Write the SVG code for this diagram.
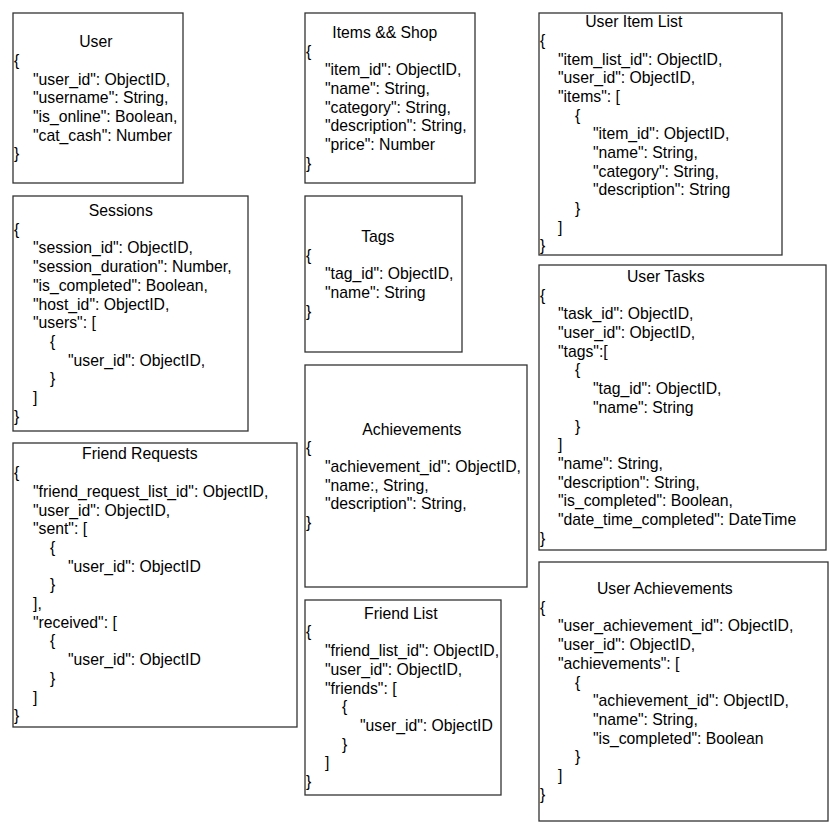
<svg xmlns="http://www.w3.org/2000/svg" width="833" height="832" viewBox="0 0 833 832">
<style>
.box{fill:#fff;stroke:#333;stroke-width:1.3}
text{font-family:"Liberation Sans",Arial,Helvetica,sans-serif;font-size:15.75px;fill:#000}
.t{text-anchor:middle}
</style>
<rect x="0" y="0" width="833" height="832" fill="#fff"/>
<g id="connectors"/>

<g id="user">
<rect class="box" x="13" y="13" width="170" height="170"/>
<text>
<tspan class="t" x="98" y="47.2">User</tspan>
<tspan x="14" dy="18.7">{</tspan>
<tspan x="33" dy="18.7">"user_id": ObjectID,</tspan>
<tspan x="33" dy="18.7">"username": String,</tspan>
<tspan x="33" dy="18.7">"is_online": Boolean,</tspan>
<tspan x="33" dy="18.7">"cat_cash": Number</tspan>
<tspan x="14" dy="18.7">}</tspan>
</text>
</g>

<g id="sessions">
<rect class="box" x="13" y="196" width="235" height="235"/>
<text>
<tspan class="t" x="123" y="216">Sessions</tspan>
<tspan x="14" dy="18.7">{</tspan>
<tspan x="33" dy="18.7">"session_id": ObjectID,</tspan>
<tspan x="33" dy="18.7">"session_duration": Number,</tspan>
<tspan x="33" dy="18.7">"is_completed": Boolean,</tspan>
<tspan x="33" dy="18.7">"host_id": ObjectID,</tspan>
<tspan x="33" dy="18.7">"users": [</tspan>
<tspan x="50" dy="18.7">{</tspan>
<tspan x="68" dy="18.7">"user_id": ObjectID,</tspan>
<tspan x="50" dy="18.7">}</tspan>
<tspan x="33" dy="18.7">]</tspan>
<tspan x="14" dy="18.7">}</tspan>
</text>
</g>

<g id="friend-requests">
<rect class="box" x="13" y="443" width="284" height="284"/>
<text>
<tspan class="t" x="142" y="459.4">Friend Requests</tspan>
<tspan x="14" dy="18.7">{</tspan>
<tspan x="33" dy="18.7">"friend_request_list_id": ObjectID,</tspan>
<tspan x="33" dy="18.7">"user_id": ObjectID,</tspan>
<tspan x="33" dy="18.7">"sent": [</tspan>
<tspan x="50" dy="18.7">{</tspan>
<tspan x="68" dy="18.7">"user_id": ObjectID</tspan>
<tspan x="50" dy="18.7">}</tspan>
<tspan x="33" dy="18.7">],</tspan>
<tspan x="33" dy="18.7">"received": [</tspan>
<tspan x="50" dy="18.7">{</tspan>
<tspan x="68" dy="18.7">"user_id": ObjectID</tspan>
<tspan x="50" dy="18.7">}</tspan>
<tspan x="33" dy="18.7">]</tspan>
<tspan x="14" dy="18.7">}</tspan>
</text>
</g>

<g id="items-shop">
<rect class="box" x="305" y="13" width="170" height="170"/>
<text>
<tspan class="t" x="387" y="37.9">Items &amp;&amp; Shop</tspan>
<tspan x="306" dy="18.7">{</tspan>
<tspan x="325" dy="18.7">"item_id": ObjectID,</tspan>
<tspan x="325" dy="18.7">"name": String,</tspan>
<tspan x="325" dy="18.7">"category": String,</tspan>
<tspan x="325" dy="18.7">"description": String,</tspan>
<tspan x="325" dy="18.7">"price": Number</tspan>
<tspan x="306" dy="18.7">}</tspan>
</text>
</g>

<g id="tags">
<rect class="box" x="305" y="196" width="157" height="156"/>
<text>
<tspan class="t" x="380" y="241.9">Tags</tspan>
<tspan x="306" dy="18.7">{</tspan>
<tspan x="325" dy="18.7">"tag_id": ObjectID,</tspan>
<tspan x="325" dy="18.7">"name": String</tspan>
<tspan x="306" dy="18.7">}</tspan>
</text>
</g>

<g id="achievements">
<rect class="box" x="305" y="365" width="222" height="222"/>
<text>
<tspan class="t" x="414" y="434.6">Achievements</tspan>
<tspan x="306" dy="18.7">{</tspan>
<tspan x="325" dy="18.7">"achievement_id": ObjectID,</tspan>
<tspan x="325" dy="18.7">"name:, String,</tspan>
<tspan x="325" dy="18.7">"description": String,</tspan>
<tspan x="306" dy="18.7">}</tspan>
</text>
</g>

<g id="friend-list">
<rect class="box" x="305" y="600" width="196" height="195"/>
<text>
<tspan class="t" x="403" y="618.7">Friend List</tspan>
<tspan x="306" dy="18.7">{</tspan>
<tspan x="325" dy="18.7">"friend_list_id": ObjectID,</tspan>
<tspan x="325" dy="18.7">"user_id": ObjectID,</tspan>
<tspan x="325" dy="18.7">"friends": [</tspan>
<tspan x="342" dy="18.7">{</tspan>
<tspan x="360" dy="18.7">"user_id": ObjectID</tspan>
<tspan x="342" dy="18.7">}</tspan>
<tspan x="325" dy="18.7">]</tspan>
<tspan x="306" dy="18.7">}</tspan>
</text>
</g>

<g id="user-item-list">
<rect class="box" x="539" y="13" width="243" height="242"/>
<text>
<tspan class="t" x="636" y="27.1">User Item List</tspan>
<tspan x="540" dy="18.7">{</tspan>
<tspan x="558" dy="18.7">"item_list_id": ObjectID,</tspan>
<tspan x="558" dy="18.7">"user_id": ObjectID,</tspan>
<tspan x="558" dy="18.7">"items": [</tspan>
<tspan x="575" dy="18.7">{</tspan>
<tspan x="593" dy="18.7">"item_id": ObjectID,</tspan>
<tspan x="593" dy="18.7">"name": String,</tspan>
<tspan x="593" dy="18.7">"category": String,</tspan>
<tspan x="593" dy="18.7">"description": String</tspan>
<tspan x="575" dy="18.7">}</tspan>
<tspan x="558" dy="18.7">]</tspan>
<tspan x="540" dy="18.7">}</tspan>
</text>
</g>

<g id="user-tasks">
<rect class="box" x="539" y="265" width="287" height="285"/>
<text>
<tspan class="t" x="668" y="281.9">User Tasks</tspan>
<tspan x="540" dy="18.7">{</tspan>
<tspan x="558" dy="18.7">"task_id": ObjectID,</tspan>
<tspan x="558" dy="18.7">"user_id": ObjectID,</tspan>
<tspan x="558" dy="18.7">"tags":[</tspan>
<tspan x="575" dy="18.7">{</tspan>
<tspan x="593" dy="18.7">"tag_id": ObjectID,</tspan>
<tspan x="593" dy="18.7">"name": String</tspan>
<tspan x="575" dy="18.7">}</tspan>
<tspan x="558" dy="18.7">]</tspan>
<tspan x="558" dy="18.7">"name": String,</tspan>
<tspan x="558" dy="18.7">"description": String,</tspan>
<tspan x="558" dy="18.7">"is_completed": Boolean,</tspan>
<tspan x="558" dy="18.7">"date_time_completed": DateTime</tspan>
<tspan x="540" dy="18.7">}</tspan>
</text>
</g>

<g id="user-achievements">
<rect class="box" x="539" y="562" width="289" height="259"/>
<text>
<tspan class="t" x="667" y="594">User Achievements</tspan>
<tspan x="540" dy="18.7">{</tspan>
<tspan x="558" dy="18.7">"user_achievement_id": ObjectID,</tspan>
<tspan x="558" dy="18.7">"user_id": ObjectID,</tspan>
<tspan x="558" dy="18.7">"achievements": [</tspan>
<tspan x="575" dy="18.7">{</tspan>
<tspan x="593" dy="18.7">"achievement_id": ObjectID,</tspan>
<tspan x="593" dy="18.7">"name": String,</tspan>
<tspan x="593" dy="18.7">"is_completed": Boolean</tspan>
<tspan x="575" dy="18.7">}</tspan>
<tspan x="558" dy="18.7">]</tspan>
<tspan x="540" dy="18.7">}</tspan>
</text>
</g>
</svg>
